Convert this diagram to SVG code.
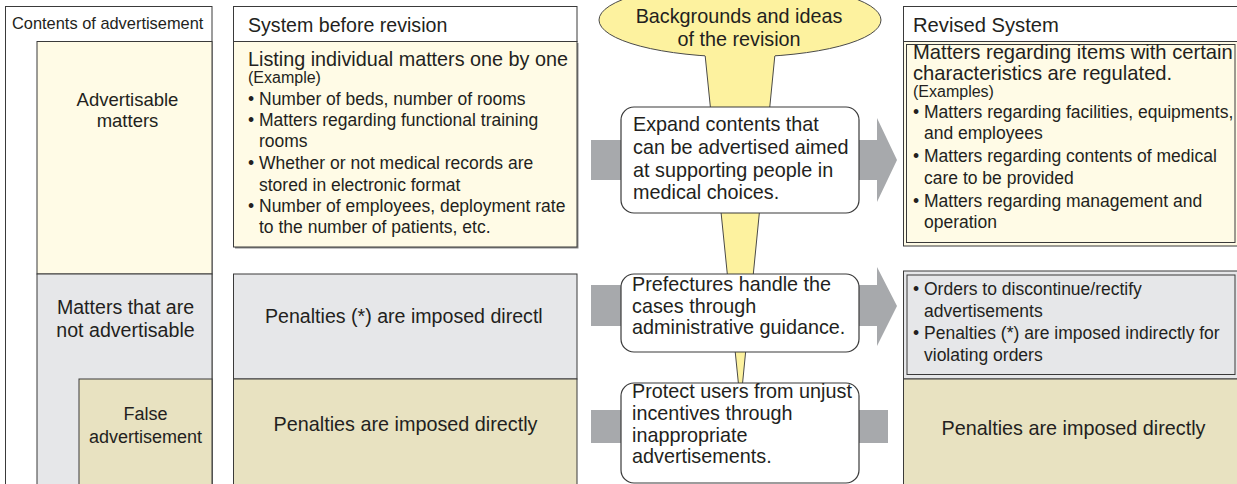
<svg xmlns="http://www.w3.org/2000/svg" width="1237" height="484" viewBox="0 0 1237 484">
  <style>
    text { font-family: "Liberation Sans", Arial, sans-serif; fill: #231f20; }
    .frame { fill: #ffffff; stroke: #3a3a3a; stroke-width: 1; }
    .cream { fill: #fffbe6; stroke: #3a3a3a; stroke-width: 1; }
    .grey { fill: #e6e7e9; stroke: #3a3a3a; stroke-width: 1; }
    .khaki { fill: #e8e2c1; stroke: #3a3a3a; stroke-width: 1; }
    .inner { fill: none; stroke: #3a3a3a; stroke-width: 1; }
    .arrow { fill: #a7a9ac; }
    .note { fill: #ffffff; stroke: #3a3a3a; stroke-width: 1.2; }
    .bubble { fill: #fdf29f; stroke: #4a4a4a; stroke-width: 1; }
    .t20 { font-size: 19.8px; }
    .t19 { font-size: 19.6px; }
    .t17 { font-size: 17.5px; }
    .t16 { font-size: 16px; }
    .c { text-anchor: middle; }
  </style>

  <!-- Left column: categories of advertisement contents -->
  <g id="contents-column">
    <rect class="frame" x="5.5" y="6.5" width="206.5" height="490"/>
    <text x="12" y="29" font-size="16.4">Contents of advertisement</text>
  </g>
  <g id="advertisable-matters">
    <rect class="cream" x="37" y="41.5" width="175" height="232.5"/>
    <text class="c" x="127.5" y="106" font-size="18.5">Advertisable</text>
    <text class="c" x="127.5" y="127" font-size="18.5">matters</text>
  </g>
  <g id="not-advertisable">
    <rect class="grey" x="37" y="274" width="175" height="220"/>
    <text class="c t19" x="125.5" y="314">Matters that are</text>
    <text class="c t19" x="125.5" y="337">not advertisable</text>
  </g>
  <g id="false-advertisement">
    <rect class="khaki" x="79" y="379" width="133" height="115"/>
    <text class="c" x="145.5" y="420" font-size="18">False</text>
    <text class="c" x="145.5" y="443" font-size="18">advertisement</text>
  </g>

  <!-- Middle-left column: the system before revision -->
  <g id="before-header">
    <rect class="frame" x="233.5" y="6.5" width="343.5" height="35"/>
    <text class="t19" x="248" y="31.5">System before revision</text>
  </g>
  <g id="before-advertisable">
    <rect x="235" y="43" width="343.5" height="205.5" fill="#8a8a8a"/>
    <rect class="cream" x="233.5" y="41.5" width="343.5" height="205.5"/>
    <text class="t20" x="248" y="66">Listing individual matters one by one</text>
    <text class="t16" x="248" y="82.5">(Example)</text>
    <text class="t17" x="248" y="105">• Number of beds, number of rooms</text>
    <text class="t17" x="248" y="126">• Matters regarding functional training</text>
    <text class="t17" x="259" y="147">rooms</text>
    <text class="t17" x="248" y="168.5">• Whether or not medical records are</text>
    <text class="t17" x="259" y="190.5">stored in electronic format</text>
    <text class="t17" x="248" y="212">• Number of employees, deployment rate</text>
    <text class="t17" x="259" y="233">to the number of patients, etc.</text>
  </g>
  <g id="before-not-advertisable">
    <rect class="grey" x="233.5" y="274" width="343.5" height="105"/>
    <text class="t19" x="265" y="323">Penalties (*) are imposed directl</text>
  </g>
  <g id="before-false">
    <rect class="khaki" x="233.5" y="379" width="343.5" height="115"/>
    <text class="c t20" x="405.5" y="430.5">Penalties are imposed directly</text>
  </g>

  <!-- Transition arrows running behind the note boxes -->
  <g id="connectors">
    <polygon class="arrow" points="591,140 877,140 877,118 897,160 877,202 877,180 591,180"/>
    <polygon class="arrow" points="591,285 877,285 877,267 897,306 877,346 877,326 591,326"/>
    <rect class="arrow" x="591" y="410" width="297" height="33"/>
  </g>

  <!-- Speech bubble with its long pointer down the middle -->
  <g id="revision-ideas">
    <ellipse class="bubble" cx="740" cy="20" rx="141" ry="37"/>
    <polygon points="704,45 776,45 740.5,404" fill="#fdf29f"/>
    <line x1="705.2" y1="56" x2="740.5" y2="404" stroke="#4a4a4a" stroke-width="1"/>
    <line x1="774.8" y1="56" x2="740.5" y2="404" stroke="#4a4a4a" stroke-width="1"/>
    <text class="c t20" x="739" y="22.5">Backgrounds and ideas</text>
    <text class="c t20" x="739" y="45.5">of the revision</text>
  </g>

  <g id="idea-expand">
    <rect class="note" x="621" y="107" width="238" height="106" rx="13"/>
    <text class="t20" x="633" y="131">Expand contents that</text>
    <text class="t20" x="633" y="154">can be advertised aimed</text>
    <text class="t20" x="633" y="176.5">at supporting people in</text>
    <text class="t20" x="633" y="199">medical choices.</text>
  </g>
  <g id="idea-guidance">
    <rect class="note" x="621" y="274" width="238" height="78" rx="13"/>
    <text class="t20" x="632" y="290.5">Prefectures handle the</text>
    <text class="t20" x="632" y="312.5">cases through</text>
    <text class="t20" x="632" y="334">administrative guidance.</text>
  </g>
  <g id="idea-protect">
    <rect class="note" x="621" y="383" width="238" height="100" rx="13"/>
    <text class="t20" x="632" y="397.5">Protect users from unjust</text>
    <text class="t20" x="632" y="419.5">incentives through</text>
    <text class="t20" x="632" y="441.5">inappropriate</text>
    <text class="t20" x="632" y="463">advertisements.</text>
  </g>

  <!-- Right column: the revised system -->
  <g id="revised-header">
    <rect class="frame" x="903.5" y="6.5" width="340" height="35"/>
    <text x="913" y="31.5" font-size="20.2">Revised System</text>
  </g>
  <g id="revised-advertisable">
    <rect class="cream" x="903.5" y="41.5" width="340" height="204.5"/>
    <rect class="inner" x="906.5" y="44.5" width="328.5" height="198"/>
    <text x="913" y="58.5" font-size="20.2">Matters regarding items with certain</text>
    <text x="913" y="80" font-size="20.2">characteristics are regulated.</text>
    <text class="t16" x="913" y="97">(Examples)</text>
    <text class="t17" x="913" y="117.5">• Matters regarding facilities, equipments,</text>
    <text class="t17" x="924" y="139">and employees</text>
    <text class="t17" x="913" y="162">• Matters regarding contents of medical</text>
    <text class="t17" x="924" y="183.5">care to be provided</text>
    <text class="t17" x="913" y="206.5">• Matters regarding management and</text>
    <text class="t17" x="924" y="228">operation</text>
  </g>
  <g id="revised-not-advertisable">
    <rect class="grey" x="903.5" y="271" width="340" height="108"/>
    <rect class="inner" x="907" y="275" width="328" height="99.5"/>
    <text class="t17" x="913" y="294.5">• Orders to discontinue/rectify</text>
    <text class="t17" x="924" y="317">advertisements</text>
    <text class="t17" x="913" y="339">• Penalties (*) are imposed indirectly for</text>
    <text class="t17" x="924" y="361">violating orders</text>
  </g>
  <g id="revised-false">
    <rect class="khaki" x="903.5" y="379" width="340" height="115"/>
    <text class="c t20" x="1073.5" y="434.5">Penalties are imposed directly</text>
  </g>
</svg>
